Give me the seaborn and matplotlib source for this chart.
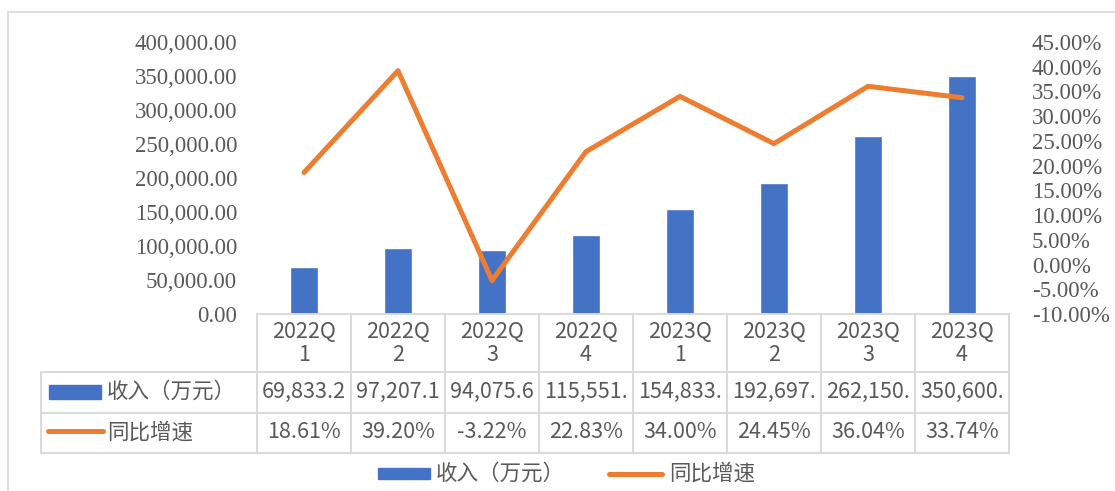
import numpy as np
import pandas as pd
import matplotlib
matplotlib.use("Agg")
import matplotlib.pyplot as plt
import seaborn as sns
from matplotlib.ticker import FuncFormatter
from matplotlib.transforms import blended_transform_factory
from matplotlib.lines import Line2D
from matplotlib.patches import Rectangle

# ---------------- data ----------------
quarters = ["2022Q1", "2022Q2", "2022Q3", "2022Q4", "2023Q1", "2023Q2", "2023Q3", "2023Q4"]
revenue = [69833.2, 97207.1, 94075.6, 115551.0, 154833.0, 192697.0, 262150.0, 350600.0]
growth = [18.61, 39.20, -3.22, 22.83, 34.00, 24.45, 36.04, 33.74]
bar_name = "收入（万元）"
line_name = "同比增速"
left_ticks = [0, 50000, 100000, 150000, 200000, 250000, 300000, 350000, 400000]
right_ticks = [-10, -5, 0, 5, 10, 15, 20, 25, 30, 35, 40, 45]

# ---------------- style ----------------
BLUE = "#4472C4"
ORANGE = "#ED7D31"
GRAY = "#595959"
GRID = "#D9D9D9"
CJK = ["Noto Sans CJK SC", "DejaVu Sans"]

sns.set_style("white")
plt.rcParams["font.family"] = ["Liberation Serif", "DejaVu Serif"]

W, H = 1115, 491
fig = plt.figure(figsize=(W / 100, H / 100), dpi=100)


def fx(x):
    return x / W


def fy(y):
    return 1 - y / H


ax = fig.add_axes([fx(257), fy(314), (1009 - 257) / W, (314 - 42) / H])
df = pd.DataFrame({"quarter": quarters, "revenue": revenue, "growth": growth})
sns.barplot(data=df, x="quarter", y="revenue", color=BLUE, width=0.3,
            saturation=1, ax=ax)

ax2 = ax.twinx()
sns.lineplot(x=np.arange(len(quarters)), y=df["growth"], color=ORANGE,
             linewidth=3.6, solid_capstyle="round", ax=ax2)

ax.set_xlim(-0.5, len(quarters) - 0.5)
ax.set_ylim(left_ticks[0], left_ticks[-1])
ax2.set_ylim(right_ticks[0], right_ticks[-1])
ax.set_yticks(left_ticks)
ax2.set_yticks(right_ticks)
ax.yaxis.set_major_formatter(FuncFormatter(lambda v, p: f"{v:,.2f}"))
ax2.yaxis.set_major_formatter(FuncFormatter(lambda v, p: f"{v:.2f}%"))
ax.set_xticks([])
for a in (ax, ax2):
    a.set_xlabel("")
    a.set_ylabel("")
    a.grid(False)
    for s in a.spines.values():
        s.set_visible(False)
ax.tick_params(axis="y", length=0, pad=14.4, labelsize=16.5, labelcolor=GRAY)
ax2.tick_params(axis="y", length=0, pad=16.5, labelsize=16.5, labelcolor=GRAY)

# ---------------- data table ----------------
tx = blended_transform_factory(ax.transData, fig.transFigure)
x_right = ax.get_position().x1
lw = 1.4

# vertical column lines
for i in range(len(quarters) + 1):
    fig.add_artist(Line2D([i - 0.5, i - 0.5], [fy(314), fy(453)], transform=tx,
                          color=GRID, lw=lw))
fig.add_artist(Line2D([fx(41), fx(41)], [fy(372), fy(453)], color=GRID, lw=lw))
# horizontal lines
fig.add_artist(Line2D([-0.5, len(quarters) - 0.5], [fy(314), fy(314)], transform=tx,
                      color=GRID, lw=lw))
for yy in (372, 412.5, 453):
    fig.add_artist(Line2D([fx(41), x_right], [fy(yy), fy(yy)], color=GRID, lw=lw))

tkw = dict(family=CJK, fontsize=15.5, color=GRAY, va="center")
for i, q in enumerate(quarters):
    fig.text(i, fy(332), q[:5], transform=tx, ha="center", **tkw)
    fig.text(i, fy(355), q[5:], transform=tx, ha="center", **tkw)
    fig.text(i, fy(392), f"{revenue[i]:,.1f}"[:8], transform=tx, ha="center", **tkw)
    fig.text(i, fy(432.5), f"{growth[i]:.2f}%", transform=tx, ha="center", **tkw)

# row legend keys
fig.add_artist(Rectangle((fx(49), fy(399)), fx(101) - fx(49), 14 / H,
                         color=BLUE, transform=fig.transFigure))
fig.text(fx(107), fy(392), bar_name, ha="left", **tkw)
fig.add_artist(Line2D([fx(48), fx(103)], [fy(431), fy(431)], color=ORANGE,
                      lw=3.6, solid_capstyle="round"))
fig.text(fx(107), fy(432.5), line_name, ha="left", **tkw)

# bottom legend
fig.add_artist(Rectangle((fx(378), fy(479)), fx(430) - fx(378), 11 / H,
                         color=BLUE, transform=fig.transFigure))
fig.text(fx(436), fy(474), bar_name, ha="left", **tkw)
fig.add_artist(Line2D([fx(609), fx(662)], [fy(474), fy(474)], color=ORANGE,
                      lw=3.6, solid_capstyle="round"))
fig.text(fx(669), fy(474), line_name, ha="left", **tkw)

# outer frame
fig.add_artist(Line2D([fx(8), fx(8)], [fy(12), 0], color=GRID, lw=1.2))
fig.add_artist(Line2D([fx(8), 1], [fy(12), fy(12)], color=GRID, lw=1.2))

fig.savefig("out.png", dpi=100)
